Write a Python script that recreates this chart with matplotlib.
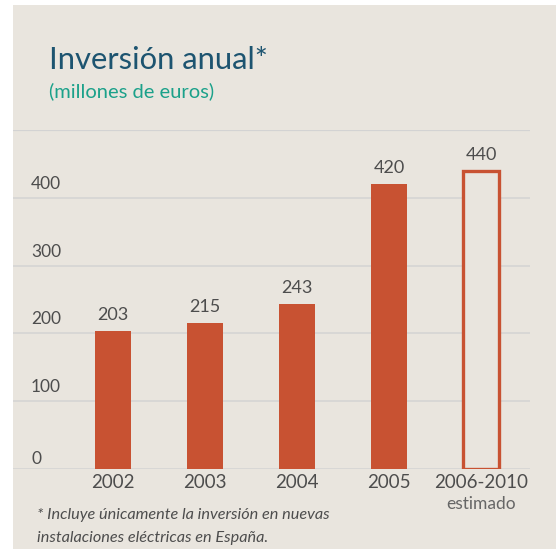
import matplotlib

matplotlib.use("Agg")
import matplotlib.pyplot as plt
from matplotlib.patches import Rectangle
from matplotlib.transforms import blended_transform_factory, offset_copy

years = ["2002", "2003", "2004", "2005", "2006-2010"]
subtitles = ["", "", "", "", "estimado"]
values = [203, 215, 243, 420, 440]
estimated = [False, False, False, False, True]
yticks = [0, 100, 200, 300, 400]

BG = "#e9e5de"
RED = "#c85232"
TEXT = "#4d4d4d"
GRID = "#d3d3d3"

plt.rcParams["font.family"] = ["Lato", "DejaVu Sans"]

W, H = 556, 549
fig = plt.figure(figsize=(W / 100, H / 100), dpi=100, facecolor="white")
fig.patches.append(Rectangle((13 / W, 0), 1, 1 - 5 / H, transform=fig.transFigure,
                             facecolor=BG, edgecolor="none", zorder=-10))

# axes: x 13..530 px, y 130..469 px (0..500 units)
ax = fig.add_axes([13 / W, (H - 469) / H, (530 - 13) / W, (469 - 130) / H])
ax.set_facecolor(BG)
ax.patch.set_alpha(0)
ax.set_ylim(0, 500)
ax.set_xlim(-1.087, 4.533)
for s in ax.spines.values():
    s.set_visible(False)
ax.set_xticks([])
ax.set_yticks([])

for t in yticks + [500]:
    ax.axhline(t, color=GRID, linewidth=1.6 if t == 500 else 1.1, zorder=0)

trans_y = blended_transform_factory(ax.transAxes, ax.transData)
for t in yticks:
    off = 10 if t == 0 else 14
    tr = offset_copy(trans_y, fig=fig, x=0, y=off, units="dots")
    ax.text(18 / 517, t, str(t), transform=tr, ha="left", va="center",
            fontsize=12.5, color=TEXT)

x = range(len(years))
for xi, v, est in zip(x, values, estimated):
    if est:
        ax.bar(xi, v, width=0.40, facecolor=BG, edgecolor=RED, linewidth=2.4, zorder=3)
    else:
        ax.bar(xi, v, width=0.40, color=RED, zorder=3)

val_trans = offset_copy(ax.transData, fig=fig, x=0, y=16, units="dots")
for xi, v in zip(x, values):
    ax.text(xi, v, str(v), transform=val_trans, ha="center", va="center",
            fontsize=13, color=TEXT)

lab_trans = blended_transform_factory(ax.transData, fig.transFigure)
for xi, yr, sub in zip(x, years, subtitles):
    ax.text(xi, 1 - 483 / H, yr, transform=lab_trans, ha="center", va="center",
            fontsize=13.5, color=TEXT)
    if sub:
        ax.text(xi, 1 - 504 / H, sub, transform=lab_trans, ha="center", va="center",
                fontsize=12.5, color="#666666")

fig.text(49 / W, 1 - 60 / H, "Inversión anual*", fontsize=22.3, color="#1d5470",
         ha="left", va="center")
fig.text(49 / W, 1 - 91 / H, "(millones de euros)", fontsize=14.5, color="#1ba18a",
         ha="left", va="center")

fig.text(37 / W, 1 - 515 / H, "* Incluye únicamente la inversión en nuevas",
         fontsize=11.7, color=TEXT, style="italic", ha="left", va="center")
fig.text(37 / W, 1 - 538 / H, "instalaciones eléctricas en España.",
         fontsize=11.7, color=TEXT, style="italic", ha="left", va="center")

fig.savefig("out.png", dpi=100, facecolor="white")
